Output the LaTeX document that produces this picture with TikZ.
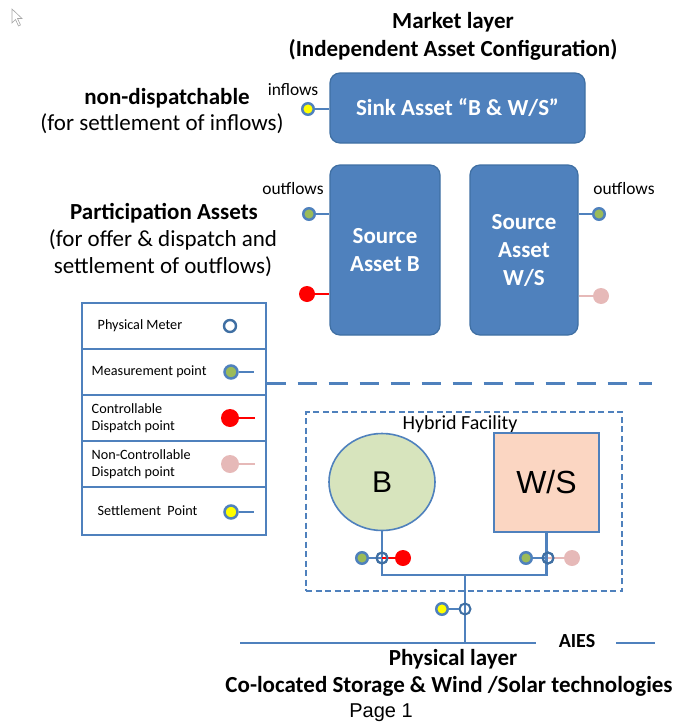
\documentclass[tikz,border=0pt]{standalone}
\usepackage{fontspec}
\setmainfont{Carlito}
\newfontfamily\pagefont{Liberation Sans}
\usetikzlibrary{positioning, shapes.geometric}

\definecolor{assetblue}{HTML}{4F81BD}
\definecolor{edgeblue}{HTML}{3F6FA3}
\definecolor{measgreen}{HTML}{9BBB59}
\definecolor{settleyellow}{HTML}{FFFF00}
\definecolor{ctrlred}{HTML}{FF0000}
\definecolor{noctrlpink}{HTML}{E6B9B8}
\definecolor{batgreen}{HTML}{D7E4BD}
\definecolor{wspeach}{HTML}{FBD6C2}

\tikzset{
  asset/.style={draw=edgeblue, fill=assetblue, rounded corners=10pt, line width=1.2pt,
    text=white, font=\bfseries\fontsize{23}{28}\selectfont, align=center, inner sep=0pt},
  dot/.style={circle, inner sep=0pt, minimum size=11.5pt},
  measpt/.style={dot, draw=assetblue, line width=2.5pt, fill=measgreen},
  settlept/.style={dot, draw=assetblue, line width=2.5pt, fill=settleyellow},
  ctrlpt/.style={dot, minimum size=16pt, fill=ctrlred},
  noctrlpt/.style={dot, minimum size=16pt, fill=noctrlpink},
  meter/.style={circle, draw=edgeblue, line width=2pt, inner sep=0pt, minimum size=11pt},
  wire/.style={draw=assetblue, line width=2pt},
  ctrlwire/.style={draw=ctrlred, line width=2pt},
  noctrlwire/.style={draw=noctrlpink, line width=2pt},
  legrow/.style={draw=assetblue, line width=2pt, minimum width=184pt, minimum height=46pt, inner sep=0pt},
  legtext/.style={font=\fontsize{14.2}{17}\selectfont, align=left, inner sep=0pt, anchor=west},
  headtext/.style={font=\bfseries\fontsize{23}{27}\selectfont, align=center, inner sep=0pt},
  bodytext/.style={font=\fontsize{23}{27}\selectfont, align=center, inner sep=0pt},
  flowtext/.style={font=\fontsize{17.4}{20}\selectfont, inner sep=0pt}
}

\begin{document}
\begin{tikzpicture}[x=1pt, y=-1pt]
  \useasboundingbox (0,0) rectangle (677,725);
  % mouse pointer
  \draw[gray!70, line width=0.6pt, fill=white] (12,9) -- (12,23) -- (15.5,19.5) -- (18.5,26) -- (20.5,25) -- (17.5,18.5) -- (22,18.5) -- cycle;

  % Market layer
  \node[headtext] (markettitle) at (453,22) {Market layer};
  \node[headtext] (marketsub) at (453,50) {(Independent Asset Configuration)};

  % Sink asset
  \node[asset, minimum width=255pt, minimum height=70pt] (sink) at (457.5,108) {Sink Asset “B \& W/S”};
  \node[settlept] (inpt) at (308,109) {};
  \draw[wire] (inpt) -- (inpt -| sink.west);
  \node[flowtext] (inlabel) at (293,90) {inflows};
  \node[headtext] (nondisp) at (167,98) {non-dispatchable};
  \node[bodytext] (nondispsub) at (162,124) {(for settlement of inflows)};

  % Source assets
  \node[asset, minimum width=110pt, minimum height=170pt] (srcb) at (385,250) {Source\\Asset B};
  \node[asset, minimum width=108pt, minimum height=170pt] (srcws) at (524,250) {Source\\Asset\\W/S};
  \node[measpt] (bout) at (309,214) {};
  \draw[wire] (bout) -- (bout -| srcb.west);
  \node[ctrlpt] (bdisp) at (307,294) {};
  \draw[ctrlwire] (bdisp) -- (bdisp -| srcb.west);
  \node[measpt] (wsout) at (599,214) {};
  \draw[wire] (wsout) -- (wsout -| srcws.east);
  \node[noctrlpt] (wsdisp) at (601,296) {};
  \draw[noctrlwire] (wsdisp) -- (wsdisp -| srcws.east);
  \node[flowtext] (boutlabel) at (293,189) {outflows};
  \node[flowtext] (wsoutlabel) at (624,189) {outflows};
  \node[headtext] (partic) at (164,213) {Participation Assets};
  \node[bodytext] (particsub) at (163,253.5) {(for offer \& dispatch and\\settlement of outflows)};

  % Legend
  \node[legrow] (rowmeter) at (173.5,326) {};
  \node[legrow] (rowmeas) at (173.5,372) {};
  \node[legrow] (rowctrl) at (173.5,418) {};
  \node[legrow] (rownoctrl) at (173.5,464) {};
  \node[legrow, minimum height=48pt] (rowsettle) at (173.5,511) {};
  \node[legtext, right=17pt of rowmeter.west] {Physical Meter};
  \node[legtext, right=11pt of rowmeas.west] {Measurement point};
  \node[legtext, right=11pt of rowctrl.west] {Controllable\\Dispatch point};
  \node[legtext, right=11pt of rownoctrl.west] {Non-Controllable\\Dispatch point};
  \node[legtext, right=17pt of rowsettle.west] {Settlement\ \ Point};
  \node[meter, minimum size=12pt, line width=2.4pt] (legmeter) at (230,326) {};
  \node[measpt, minimum size=13pt] (legmeas) at (231,372) {};
  \coordinate (legmeasend) at (254,372);
  \draw[wire] (legmeas) -- (legmeasend);
  \node[ctrlpt, minimum size=18pt] (legctrl) at (230,418) {};
  \coordinate (legctrlend) at (255,418);
  \draw[ctrlwire] (legctrl) -- (legctrlend);
  \node[noctrlpt, minimum size=18pt] (legnoctrl) at (230,464) {};
  \coordinate (legnoctrlend) at (255,464);
  \draw[noctrlwire] (legnoctrl) -- (legnoctrlend);
  \node[settlept, minimum size=13pt] (legsettle) at (231,512) {};
  \coordinate (legsettleend) at (254,512);
  \draw[wire] (legsettle) -- (legsettleend);

  % Layer boundary
  \coordinate (layerend) at (652,383);
  \draw[assetblue, line width=3pt, dash pattern=on 19pt off 12pt] (rowmeas.east |- layerend) -- (layerend);

  % Hybrid facility
  \node[draw=assetblue, line width=1.6pt, dash pattern=on 6pt off 3.5pt, minimum width=316pt, minimum height=179pt] (hybrid) at (464,501.5) {};
  \node[font=\fontsize{20}{22}\selectfont, inner sep=0pt] (hybridlabel) at (460,424) {Hybrid Facility};
  \node[ellipse, draw=assetblue, fill=batgreen, line width=1.6pt, minimum width=106pt, minimum height=97pt, font=\pagefont\fontsize{30}{32}\selectfont] (bat) at (382,482) {B};
  \node[draw=assetblue, fill=wspeach, line width=1.6pt, minimum width=105pt, minimum height=99pt, font=\pagefont\fontsize{32}{34}\selectfont] (ws) at (546.5,482.5) {W/S};

  % Wiring
  \coordinate (bus) at (465,575);
  \coordinate (aiesw) at (240,643);
  \coordinate (aiese) at (536,643);
  \coordinate (aiesend) at (655,643);
  \draw[wire, line width=2.4pt] (bat.south) -- (bat.south |- bus) -- (ws.south |- bus) -- (ws.south);
  \draw[wire, line width=2.4pt] (bus) -- (bus |- aiesw);
  \draw[wire] (aiesw) -- (aiese);
  \node[font=\bfseries\fontsize{20}{22}\selectfont, inner sep=0pt] (aies) at (577,641) {AIES};
  \draw[wire] ([xshift=21pt]aies.east |- aiesend) -- (aiesend);

  % Meters at battery
  \node[meter] (batmeter) at (382,558) {};
  \node[measpt] (batmeas) at (362,558) {};
  \node[ctrlpt] (batctrl) at (403,558) {};
  \draw[wire] (batmeas) -- (batmeter.center);
  \draw[ctrlwire] (batmeter.center) -- (batctrl);
  \node[meter] at (batmeter) {};
  % Meters at wind/solar
  \node[meter] (wsmeter) at (548,558) {};
  \node[measpt] (wsmeas) at (526,558) {};
  \node[noctrlpt] (wsnoctrl) at (572,558) {};
  \draw[wire] (wsmeas) -- (wsmeter.center);
  \draw[noctrlwire] (wsmeter.center) -- (wsnoctrl);
  \node[meter] at (wsmeter) {};
  % Meter at connection point
  \node[meter] (poimeter) at (465,609) {};
  \node[settlept] (poisettle) at (442,609) {};
  \draw[wire] (poisettle) -- (poimeter);

  % Physical layer
  \node[headtext] (phystitle) at (453,659) {Physical layer};
  \node[headtext] (physsub) at (449,686) {Co-located Storage \& Wind /Solar technologies};
  \node[font=\pagefont\fontsize{20}{22}\selectfont, inner sep=0pt] (pagelabel) at (381,713) {Page 1};
\end{tikzpicture}
\end{document}
